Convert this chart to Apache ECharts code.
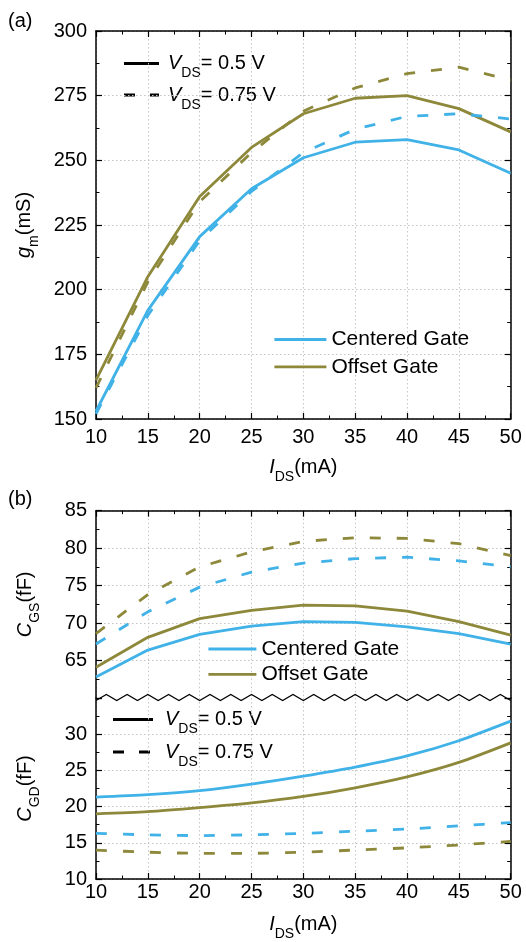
<!DOCTYPE html>
<html>
<head>
<meta charset="utf-8">
<script src="https://cdn.jsdelivr.net/npm/echarts@6/dist/echarts.min.js"></script>
<style>
  html, body { margin: 0; padding: 0; background: #fff; }
  #chart { width: 526px; height: 942px; }
</style>
</head>
<body>
<div id="chart"></div>
<script>
// drain current I_DS (mA)
const iDS = [10, 15, 20, 25, 30, 35, 40, 45, 50]

// (a) transconductance gm (mS)
const gmCentered05 = [153, 192, 220.5, 239, 251, 257, 258, 254, 245]
const gmCentered075 = [152, 190, 219, 238, 253, 262, 267, 268, 266]
const gmOffset05 = [165, 205, 236, 255, 268, 274, 275, 270, 261]
const gmOffset075 = [162, 203, 234, 253, 269, 278, 283.5, 286, 281]

// (b) CGS (fF)
const cgsCentered05 = [62.8, 66.4, 68.5, 69.6, 70.2, 70.1, 69.5, 68.6, 67.2]
const cgsCentered075 = [67.2, 71.5, 74.8, 76.8, 78.0, 78.6, 78.8, 78.3, 77.5]
const cgsOffset05 = [64.1, 68.1, 70.6, 71.7, 72.4, 72.3, 71.6, 70.2, 68.4]
const cgsOffset075 = [68.6, 73.8, 77.5, 79.5, 80.9, 81.4, 81.3, 80.6, 79.0]

// (b) CGD (fF)
const cgdCentered05 = [21.3, 21.65, 22.2, 23.1, 24.2, 25.45, 27.0, 29.1, 31.8]
const cgdCentered075 = [16.3, 16.1, 16.0, 16.1, 16.3, 16.6, 16.9, 17.35, 17.8]
const cgdOffset05 = [19.0, 19.3, 19.85, 20.5, 21.4, 22.6, 24.1, 26.1, 28.8]
const cgdOffset075 = [14.0, 13.7, 13.55, 13.55, 13.7, 14.0, 14.3, 14.7, 15.2]

const xTicks = [10, 50, 5]
const gmTicks = [150, 300, 25]
const cgsTicks = [60, 85, 5]
const cgdTicks = [10, 35, 5]

const BLUE = '#40B2E7'
const OLIVE = '#8D883A'
const FONT = '"Liberation Sans", Arial, Helvetica, sans-serif'
const DASH = [11, 16]

const GL = 96, GR = 15.3
const rich = {
  n: { fontSize: 20, lineHeight: 34, fontFamily: FONT, color: '#000' },
  i: { fontSize: 20, lineHeight: 34, fontFamily: FONT, fontStyle: 'italic', color: '#000' },
  s: { fontSize: 14, lineHeight: 16, fontFamily: FONT, verticalAlign: 'bottom', color: '#000' }
}

const pairs = ys => iDS.map((x, k) => [x, ys[k]])

function axisBase (t) {
  return {
    type: 'value',
    min: t[0],
    max: t[1],
    interval: t[2],
    axisLine: { show: true, onZero: false, lineStyle: { color: '#000', width: 1.5 } },
    axisTick: { show: true, inside: true, length: 6, lineStyle: { color: '#000', width: 1.2 } },
    minorTick: { show: true, splitNumber: 2, length: 3.5, lineStyle: { color: '#000', width: 1 } },
    splitLine: { show: false },
    axisLabel: { show: false }
  }
}
const grid = { show: true, lineStyle: { color: '#c4c4c4', type: [1.5, 2.5], width: 1 } }
const lbl = m => ({ show: true, margin: m, fontSize: 20, fontFamily: FONT, color: '#000' })

const xAxis = [
  Object.assign(axisBase(xTicks), { gridIndex: 0, position: 'bottom', splitLine: grid, axisLabel: lbl(8),
    name: '{i|I}{s|DS}{n|(mA)}', nameLocation: 'middle', nameGap: 31, nameTextStyle: { rich } }),
  Object.assign(axisBase(xTicks), { gridIndex: 0, position: 'top' }),
  Object.assign(axisBase(xTicks), { gridIndex: 1, position: 'top', splitLine: grid }),
  Object.assign(axisBase(xTicks), { gridIndex: 2, position: 'bottom', splitLine: grid, axisLabel: lbl(3),
    name: '{i|I}{s|DS}{n|(mA)}', nameLocation: 'middle', nameGap: 28, nameTextStyle: { rich } })
]

const yAxis = [
  Object.assign(axisBase(gmTicks), { gridIndex: 0, position: 'left', splitLine: grid, axisLabel: lbl(9),
    name: '{i|g}{s|m}{n|(mS)}', nameLocation: 'middle', nameRotate: 90, nameGap: 55, nameTextStyle: { rich } }),
  Object.assign(axisBase(gmTicks), { gridIndex: 0, position: 'right' }),
  Object.assign(axisBase(cgsTicks), { gridIndex: 1, position: 'left',
    splitLine: Object.assign({ showMinLine: false }, grid),
    axisLabel: Object.assign(lbl(9), { showMinLabel: false }),
    name: '{i|C}{s|GS}{n|(fF)}', nameLocation: 'middle', nameRotate: 90, nameGap: 54, nameTextStyle: { rich } }),
  Object.assign(axisBase(cgsTicks), { gridIndex: 1, position: 'right' }),
  Object.assign(axisBase(cgdTicks), { gridIndex: 2, position: 'left',
    splitLine: Object.assign({ showMaxLine: false }, grid),
    axisLabel: Object.assign(lbl(9), { showMaxLabel: false }),
    name: '{i|C}{s|GD}{n|(fF)}', nameLocation: 'middle', nameRotate: 90, nameGap: 54, nameTextStyle: { rich } }),
  Object.assign(axisBase(cgdTicks), { gridIndex: 2, position: 'right' })
]

function line (name, color, dashed, xi, yi, ys, smooth) {
  return {
    type: 'line', name, xAxisIndex: xi, yAxisIndex: yi,
    data: pairs(ys), showSymbol: false, symbol: 'none', smooth: smooth || false,
    color,
    lineStyle: { color, width: 2.8, type: dashed ? DASH : 'solid' },
    emphasis: { disabled: true }
  }
}

const series = [
  line('Centered Gate', BLUE, false, 0, 0, gmCentered05),
  line('Offset Gate', OLIVE, false, 0, 0, gmOffset05),
  line('Centered Gate', BLUE, true, 0, 0, gmCentered075),
  line('Offset Gate', OLIVE, true, 0, 0, gmOffset075),
  line('Centered Gate', BLUE, false, 2, 2, cgsCentered05),
  line('Offset Gate', OLIVE, false, 2, 2, cgsOffset05),
  line('Centered Gate', BLUE, true, 2, 2, cgsCentered075),
  line('Offset Gate', OLIVE, true, 2, 2, cgsOffset075),
  line('Centered Gate', BLUE, false, 3, 4, cgdCentered05, 0.25),
  line('Offset Gate', OLIVE, false, 3, 4, cgdOffset05, 0.25),
  line('Centered Gate', BLUE, true, 3, 4, cgdCentered075, 0.25),
  line('Offset Gate', OLIVE, true, 3, 4, cgdOffset075, 0.25)
]

const gateLegend = (left, top, w, gap) => ({
  data: ['Centered Gate', 'Offset Gate'],
  orient: 'vertical', left, top, padding: 0,
  itemWidth: w, itemHeight: 14, itemGap: gap,
  selectedMode: false,
  itemStyle: { opacity: 0 },
  lineStyle: { width: 2.8 },
  textStyle: { fontSize: 21, lineHeight: 25, fontFamily: FONT, color: '#000' }
})

// V_DS line-style key, drawn as plain graphics
function vdsKey (x1, x2, tx, y1, y2) {
  const txt = (y, v) => ({
    type: 'text', x: tx, y,
    style: { text: '{i|V}{s|DS}{n|= ' + v + ' V}', rich, verticalAlign: 'middle', align: 'left' }
  })
  return [
    { type: 'line', shape: { x1, y1, x2, y2: y1 }, style: { stroke: '#000', lineWidth: 2.8 } },
    { type: 'line', shape: { x1, y1: y2, x2, y2 }, style: { stroke: '#000', lineWidth: 2.8, lineDash: [11, 15] } },
    txt(y1, '0.5'),
    txt(y2, '0.75')
  ]
}

// axis break zigzag between the two (b) panels
const breakY = 698
const zig = []
for (let k = 0; k <= 40; k++) {
  zig.push([GL + k * (526 - GR - GL) / 40, k % 2 === 0 ? breakY + 2.5 : breakY - 3.5])
}

const option = {
  animation: false,
  backgroundColor: '#fff',
  grid: [
    { left: GL, right: GR, top: 31, height: 388, containLabel: false },
    { left: GL, right: GR, top: 510.7, height: breakY - 510.7 },
    { left: GL, right: GR, top: breakY, height: 884 - breakY }
  ],
  xAxis,
  yAxis,
  legend: [gateLegend(273, 327, 52, 2.4), gateLegend(207, 636.5, 48, 0.3)],
  series,
  graphic: [
    { type: 'text', x: 8, y: 21, style: { text: '(a)', font: '20px ' + FONT, fill: '#000', verticalAlign: 'middle' } },
    { type: 'text', x: 8, y: 499, style: { text: '(b)', font: '20px ' + FONT, fill: '#000', verticalAlign: 'middle' } },
    ...vdsKey(124, 159, 168, 63.5, 95),
    ...vdsKey(113, 153, 165, 719.5, 752),
    { type: 'polyline', z: 100, shape: { points: zig }, style: { stroke: '#000', lineWidth: 1.2, fill: null } }
  ]
}

const chart = echarts.init(document.getElementById('chart'), null, { renderer: 'canvas' })
chart.setOption(option)
</script>
</body>
</html>
